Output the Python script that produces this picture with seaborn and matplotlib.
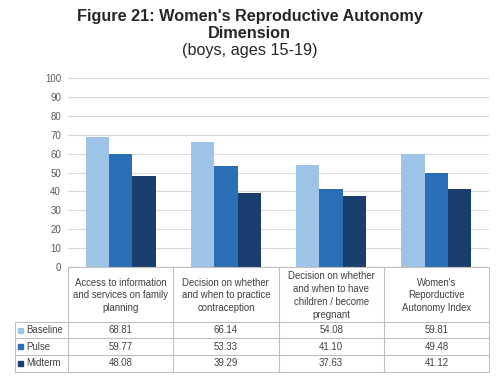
import numpy as np
import pandas as pd
import seaborn as sns
import matplotlib.pyplot as plt
from matplotlib.transforms import blended_transform_factory
from matplotlib.patches import Rectangle

# %% Data
categories = [
    "Access to information\nand services on family\nplanning",
    "Decision on whether\nand when to practice\ncontraception",
    "Decision on whether\nand when to have\nchildren / become\npregnant",
    "Women's\nReporductive\nAutonomy Index",
]
series = ["Baseline", "Pulse", "Midterm"]
baseline = [68.81, 66.14, 54.08, 59.81]
pulse = [59.77, 53.33, 41.10, 49.48]
midterm = [48.08, 39.29, 37.63, 41.12]
colors = ["#9DC3E6", "#2A6EB5", "#1A3E6E"]

df = pd.DataFrame({
    "category": categories * 3,
    "series": np.repeat(series, len(categories)),
    "value": baseline + pulse + midterm,
})

# %% Figure
sns.set_style("white")
plt.rcParams["font.family"] = ["Liberation Sans", "DejaVu Sans"]

W, H = 499, 377
fig = plt.figure(figsize=(W / 100, H / 100), dpi=100)
fig.patch.set_facecolor("white")

x0, x1, y_top, y_bot = 68, 489, 78, 267
ax = fig.add_axes([x0 / W, 1 - y_bot / H, (x1 - x0) / W, (y_bot - y_top) / H])

sns.barplot(
    df, x="category", y="value", hue="series",
    hue_order=series, palette=colors, width=0.667,
    saturation=1, linewidth=0, legend=False, ax=ax
)
ax.set_xlim(-0.5, len(categories) - 0.5)
ax.set_ylim(0, 100)
ax.set_yticks(range(0, 101, 10))
ax.tick_params(axis="y", length=0, labelsize=7, labelcolor="#595959", pad=5)
ax.set_xticks([])
ax.set_xlabel("")
ax.set_ylabel("")
ax.yaxis.grid(True, color="#D9D9D9", lw=0.8)
ax.set_axisbelow(True)
for s in ax.spines.values():
    s.set_visible(False)

# %% Titles
fig.text(0.5, 1 - 17 / H, "Figure 21: Women's Reproductive Autonomy",
         ha="center", va="center", fontsize=11.7, fontweight="bold", color="#262626")
fig.text(0.5, 1 - 33 / H, "Dimension",
         ha="center", va="center", fontsize=11.7, fontweight="bold", color="#262626")
fig.text(0.5, 1 - 51 / H, "(boys, ages 15-19)",
         ha="center", va="center", fontsize=11.7, color="#262626")

# %% Data table under the axis
tr = blended_transform_factory(ax.transData, fig.transFigure)
fy = lambda y: 1 - y / H
line_kw = dict(color="#BFBFBF", lw=0.8, clip_on=False)
rows_y = [267, 322, 338, 355, 372]
edges = np.arange(len(categories) + 1) - 0.5
tab_left = 15

# horizontal lines
for i, y in enumerate(rows_y):
    if i == 0:
        fig.add_artist(plt.Line2D([x0 / W, x1 / W], [fy(y)] * 2, **line_kw))
    else:
        fig.add_artist(plt.Line2D([tab_left / W, x1 / W], [fy(y)] * 2, **line_kw))
# vertical lines
for e in edges:
    ax.plot([e, e], [fy(rows_y[0]), fy(rows_y[-1])], transform=tr, **line_kw)
fig.add_artist(plt.Line2D([tab_left / W] * 2, [fy(rows_y[1]), fy(rows_y[-1])], **line_kw))

txt_kw = dict(fontsize=6.9, color="#404040", ha="center", va="center")
for i, cat in enumerate(categories):
    ax.text(i, fy((rows_y[0] + rows_y[1]) / 2 + 1), cat, transform=tr,
            linespacing=1.35, **txt_kw)

for r, (name, vals, c) in enumerate(zip(series, [baseline, pulse, midterm], colors)):
    yc = fy((rows_y[r + 1] + rows_y[r + 2]) / 2)
    fig.add_artist(Rectangle((18 / W, yc - 2.5 / H), 5 / W, 5 / H, color=c))
    fig.text(26 / W, yc, name, fontsize=6.9, color="#404040", ha="left", va="center")
    for i, v in enumerate(vals):
        ax.text(i, yc, f"{v:.2f}", transform=tr, **txt_kw)

fig.savefig("out.png", dpi=100)
